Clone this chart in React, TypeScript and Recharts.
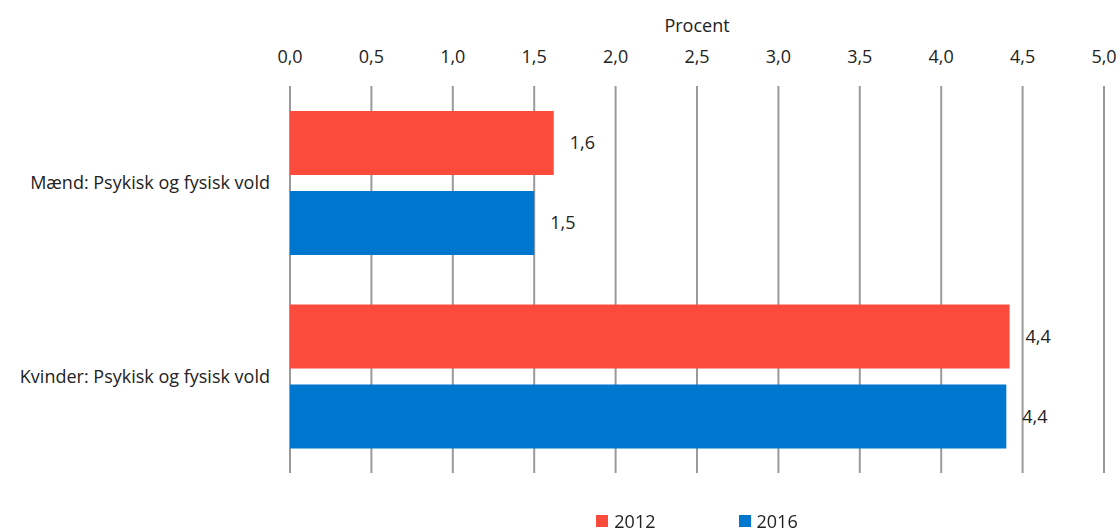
import React from "react";
import {
  BarChart,
  Bar,
  XAxis,
  YAxis,
  CartesianGrid,
  Legend,
  LabelList,
} from "recharts";

const categories = ["Mænd: Psykisk og fysisk vold", "Kvinder: Psykisk og fysisk vold"];
const values2012 = [1.62, 4.42];
const values2016 = [1.5, 4.4];
const xTicks = [0, 0.5, 1, 1.5, 2, 2.5, 3, 3.5, 4, 4.5, 5];

const RED = "#FA4B3C";
const BLUE = "#0077CF";
const FONT = "'Open Sans', sans-serif";
const FS = 18;

const data = categories.map((name, i) => ({
  name,
  y2012: values2012[i],
  y2016: values2016[i],
}));

const fmt = (v: number) => v.toFixed(1).replace(".", ",");

function LegendContent() {
  const items = [
    { label: "2012", color: RED },
    { label: "2016", color: BLUE },
  ];
  return (
    <div style={{ display: "flex", justifyContent: "center", gap: 83, fontFamily: FONT, fontSize: FS, lineHeight: "20px" }}>
      {items.map((it) => (
        <div key={it.label} style={{ display: "flex", alignItems: "center" }}>
          <span style={{ width: 12, height: 12, background: it.color, display: "inline-block", marginRight: 6 }} />
          <span style={{ color: "#222" }}>{it.label}</span>
        </div>
      ))}
    </div>
  );
}

export default function App() {
  return (
    <div style={{ position: "fixed", top: 0, left: 0, background: "#fff" }}>
      <BarChart
        width={1120}
        height={532}
        data={data}
        layout="vertical"
        margin={{ top: 8, right: 16, left: 0, bottom: 39 }}
        barSize={64}
        barGap={16}
        style={{ fontFamily: FONT }}
      >
        <CartesianGrid horizontal={false} stroke="#9A9A9A" strokeWidth={2} ticks={xTicks} />
        <XAxis
          type="number"
          orientation="top"
          domain={[0, 5]}
          ticks={xTicks}
          tickFormatter={fmt}
          axisLine={false}
          tickLine={false}
          height={78}
          tickMargin={17}
          tick={{ fill: "#222", fontSize: FS }}
          interval={0}
          label={{ value: "Procent", position: "insideTop", offset: 11, fill: "#222", fontSize: FS }}
        />
        <YAxis
          type="category"
          dataKey="name"
          width={290}
          axisLine={false}
          tickLine={false}
          tickMargin={14}
          tick={{ fill: "#222", fontSize: FS }}
        />
        <Legend
          verticalAlign="bottom"
          content={<LegendContent />}
          wrapperStyle={{ bottom: 1, left: 290, width: 814 }}
        />
        <Bar dataKey="y2012" name="2012" fill={RED} isAnimationActive={false}>
          <LabelList dataKey="y2012" position="right" offset={16} formatter={(v: number) => fmt(v)} fill="#222" fontSize={FS} />
        </Bar>
        <Bar dataKey="y2016" name="2016" fill={BLUE} isAnimationActive={false}>
          <LabelList dataKey="y2016" position="right" offset={16} formatter={(v: number) => fmt(v)} fill="#222" fontSize={FS} />
        </Bar>
      </BarChart>
    </div>
  );
}
